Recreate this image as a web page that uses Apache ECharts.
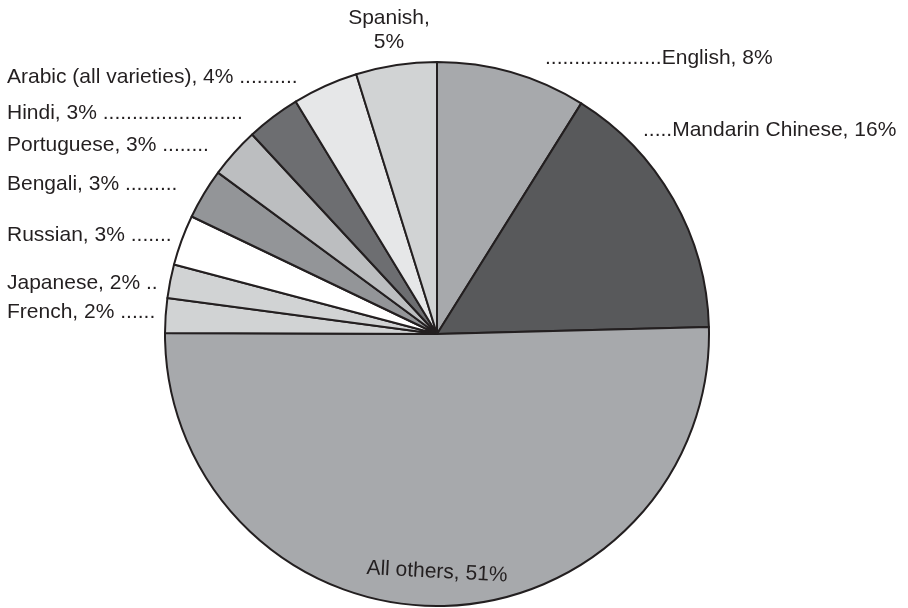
<!DOCTYPE html>
<html>
<head>
<meta charset="utf-8">
<script src="https://cdn.jsdelivr.net/npm/echarts@6/dist/echarts.min.js"></script>
<style>
  html, body { margin: 0; padding: 0; background: #fff; }
  #chart { width: 908px; height: 608px; }
</style>
</head>
<body>
<div id="chart"></div>
<script>
// languages, clockwise from 12 o'clock
var languages = ['English', 'Mandarin Chinese', 'All others', 'French', 'Japanese', 'Russian',
  'Bengali', 'Portuguese', 'Hindi', 'Arabic (all varieties)', 'Spanish'];
// percentages as printed on the labels
var printedShares = [8, 16, 51, 2, 2, 3, 3, 3, 3, 4, 5];
// slice sizes as drawn
var sliceShares = [8.9, 15.7, 50.5, 2.05, 2, 3, 3, 3, 3.2, 3.9, 4.8];
var sliceColors = ['#a7a9ac', '#58595b', '#a7a9ac', '#d1d3d4', '#d1d3d4', '#ffffff',
  '#939598', '#bcbec0', '#6d6e71', '#e6e7e8', '#d1d3d4'];
// dotted leaders typed after / before the label text
var leaderDots = [20, 5, 0, 6, 2, 7, 9, 8, 24, 10, 0];
// where each label sits: [x, y, align]
var labelPos = [
  [545, 58, 'left'], [643, 130, 'left'], [437, 572, 'center'],
  [7, 312, 'left'], [7, 283, 'left'], [7, 235, 'left'], [7, 184, 'left'],
  [7, 145, 'left'], [7, 113, 'left'], [7, 77, 'left'], [389, 30, 'center']
];

var chart = echarts.init(document.getElementById('chart'));

function dots(n) { return new Array(n + 1).join('.'); }

var data = languages.map(function (name, i) {
  return { name: name, value: sliceShares[i], itemStyle: { color: sliceColors[i] } };
});

chart.setOption({
  animation: false,
  series: [{
    type: 'pie',
    center: [437, 334],
    radius: 272,
    startAngle: 90,
    clockwise: true,
    avoidLabelOverlap: false,
    itemStyle: { borderColor: '#231f20', borderWidth: 2 },
    emphasis: { disabled: true },
    labelLine: { show: false },
    label: {
      show: true,
      position: 'outside',
      fontFamily: 'Liberation Sans, Arial, sans-serif',
      fontSize: 21,
      lineHeight: 24,
      color: '#231f20',
      formatter: function (p) {
        var i = p.dataIndex;
        var txt = p.name + ', ' + printedShares[i] + '%';
        if (p.name === 'Spanish') return p.name + ',\n' + printedShares[i] + '%';
        if (labelPos[i][0] > 437) return dots(leaderDots[i]) + txt;
        if (leaderDots[i] > 0) return txt + ' ' + dots(leaderDots[i]);
        return txt;
      }
    },
    labelLayout: function (params) {
      var pos = labelPos[params.dataIndex];
      var out = { x: pos[0], y: pos[1], align: pos[2], verticalAlign: 'middle' };
      if (params.dataIndex === 2) out.rotate = -3;
      return out;
    },
    data: data
  }]
});
</script>
</body>
</html>
